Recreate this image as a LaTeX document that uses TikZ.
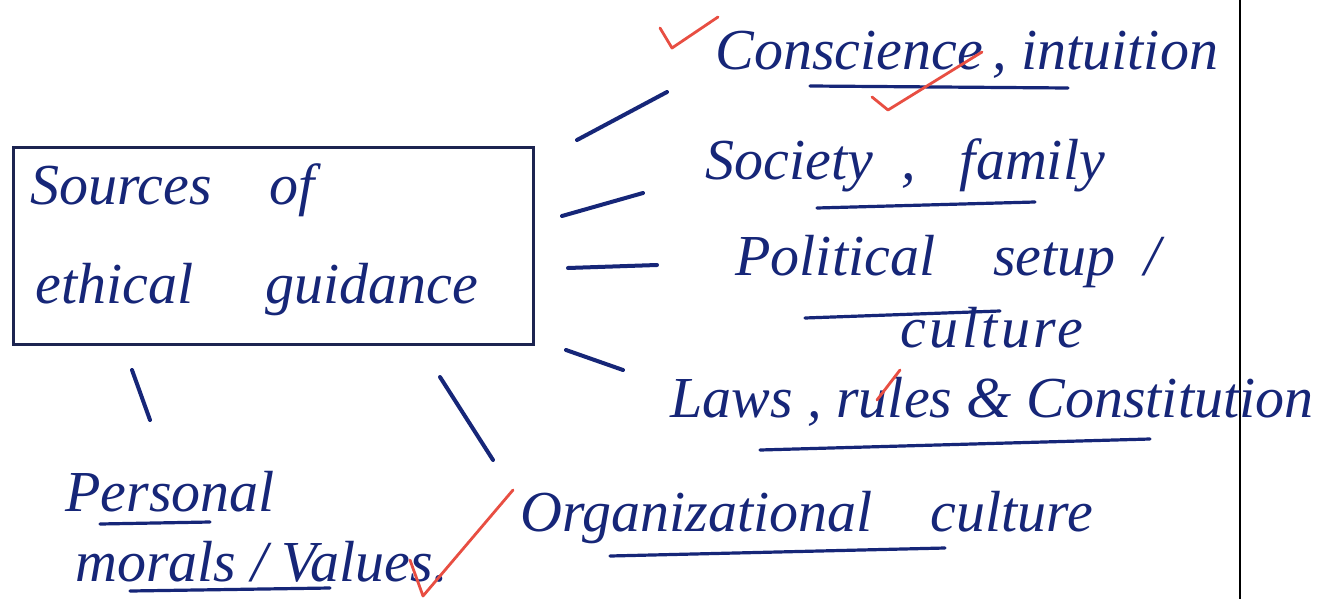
\documentclass[tikz,border=0pt]{standalone}
\usepackage{fontspec}
\setmainfont{Liberation Serif}
\definecolor{ink}{RGB}{22,38,120}
\definecolor{boxink}{RGB}{28,36,80}
\definecolor{redink}{RGB}{232,78,66}
\begin{document}
\begin{tikzpicture}[x=0.5pt,y=-0.5pt,
  hand/.style={text=ink,font=\itshape\fontsize{29}{34}\selectfont,inner sep=0pt},
  stroke/.style={draw=ink,line width=2pt,line cap=round},
  uline/.style={draw=ink,line width=1.6pt,line cap=round},
  tick/.style={draw=redink,line width=1.4pt,line cap=round,line join=round},
  srcbox/.style={draw=boxink,line width=1.5pt,inner sep=0pt,minimum width=260pt,minimum height=98.5pt}]
\useasboundingbox (0,0) rectangle (1336,599);
\fill[white] (0,0) rectangle (1336,599);
% right margin line
\coordinate (mtop) at (1240,0);
\coordinate (mbot) at (1240,599);
\draw[black,line width=1.2pt] (mtop) -- (mbot);
% central box
\node[srcbox] (box) at (273,246) {};
\node[hand,anchor=west] (src1) at (30,190) {Sources\quad of};
\node[hand,anchor=west] (src2) at (35,290) {ethical\quad\ guidance};
% labels
\node[hand,anchor=west] (l1) at (715,55) {Conscience\,,\ intuition};
\node[hand,anchor=west] (l2) at (705,165) {Society\ \ ,\ \ \ family};
\node[hand,anchor=west] (l3a) at (735,262) {Political\quad setup\ \ /};
\node[hand,anchor=west] (l3b) at (900,328) {\addfontfeature{LetterSpace=6}culture};
\node[hand,anchor=west] (l4) at (670,402) {Laws\ , rules \& Constitution};
\node[hand,anchor=west] (l5) at (520,518) {Organizational\quad culture};
\node[hand,anchor=west] (l6a) at (65,492) {Personal};
\node[hand,anchor=west] (l6b) at (75,562) {morals / Values.};
% connector strokes
\coordinate (c1a) at (577,140); \coordinate (c1b) at (667,92);
\coordinate (c2a) at (562,216); \coordinate (c2b) at (643,193);
\coordinate (c3a) at (568,268); \coordinate (c3b) at (657,265);
\coordinate (c4a) at (566,350); \coordinate (c4b) at (623,370);
\coordinate (c5a) at (440,377); \coordinate (c5b) at (493,460);
\coordinate (c6a) at (132,370); \coordinate (c6b) at (150,420);
\draw[stroke] (c1a) -- (c1b);
\draw[stroke] (c2a) -- (c2b);
\draw[stroke] (c3a) -- (c3b);
\draw[stroke] (c4a) -- (c4b);
\draw[stroke] (c5a) -- (c5b);
\draw[stroke] (c6a) -- (c6b);
% underlines
\coordinate (u1a) at (810,86); \coordinate (u1b) at (1068,88);
\coordinate (u2a) at (817,208); \coordinate (u2b) at (1035,202);
\coordinate (u3a) at (805,318); \coordinate (u3b) at (1000,311);
\coordinate (u4a) at (760,450); \coordinate (u4b) at (1150,439);
\coordinate (u5a) at (610,556); \coordinate (u5b) at (945,548);
\coordinate (u6a) at (100,524); \coordinate (u6b) at (210,522);
\coordinate (u7a) at (130,591); \coordinate (u7b) at (330,588);
\foreach \u in {1,...,7} {\draw[uline] (u\u a) -- (u\u b);}
% red ticks
\draw[tick] (660,28) -- (672,48) -- (718,17);
\draw[tick] (872,97) -- (888,110) -- (982,52);
\draw[tick] (877,400) -- (900,370);
\draw[tick] (410,560) -- (423,596) -- (513,490);
\end{tikzpicture}
\end{document}
